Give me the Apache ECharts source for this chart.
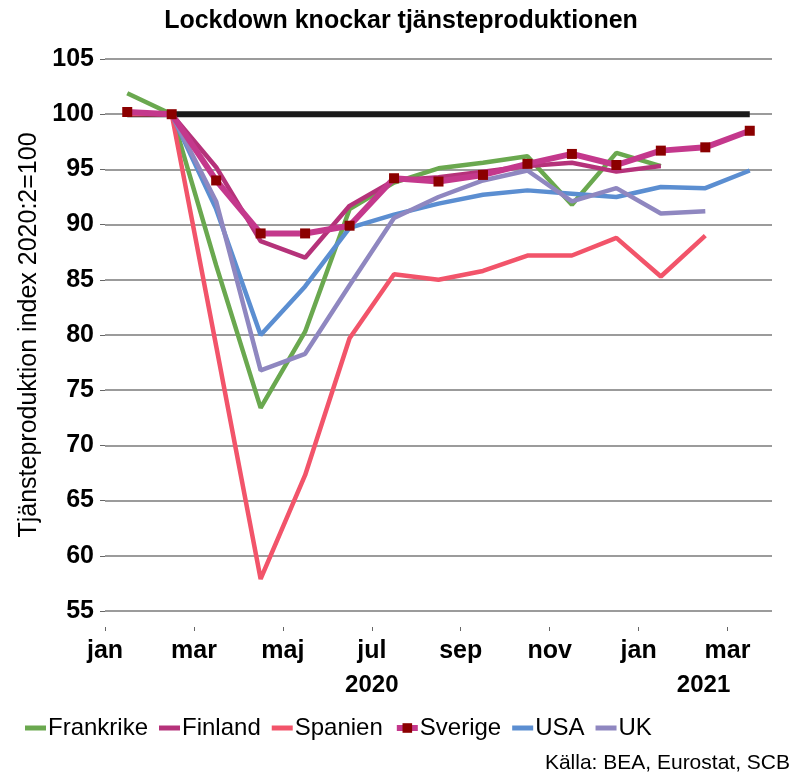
<!DOCTYPE html>
<html>
<head>
<meta charset="utf-8">
<script src="https://cdn.jsdelivr.net/npm/echarts@6/dist/echarts.min.js"></script>
<style>
  html, body { margin: 0; padding: 0; background: #fff; }
  #chart { width: 802px; height: 777px; }
</style>
</head>
<body>
<div id="chart"></div>
<script>
// months jan 2020 .. mar 2021, index 2020:2 = 100
const months = ['jan', 'feb', 'mar', 'apr', 'maj', 'jun', 'jul', 'aug', 'sep', 'okt', 'nov', 'dec', 'jan', 'feb', 'mar'];
const tickLabels = ['jan', 'mar', 'maj', 'jul', 'sep', 'nov', 'jan', 'mar'];

const frankrike = [101.9, 100, 86.3, 73.4, 80.3, 91.4, 93.8, 95.1, 95.6, 96.2, 91.8, 96.5, 95.3, null, null];
const finland   = [100.1, 100, 95.2, 88.5, 87.0, 91.7, 94.0, 94.3, 94.8, 95.3, 95.6, 94.8, 95.3, null, null];
const spanien   = [100.0, 100, 79.0, 57.9, 67.3, 79.7, 85.5, 85.0, 85.8, 87.2, 87.2, 88.8, 85.3, 89.0, null];
const sverige   = [100.2, 100, 94.0, 89.2, 89.2, 89.9, 94.2, 93.9, 94.5, 95.5, 96.4, 95.4, 96.7, 97.0, 98.5];
const usa       = [null, 100, 91.4, 80.0, 84.4, 89.7, 90.9, 91.9, 92.7, 93.1, 92.8, 92.5, 93.4, 93.3, 94.9];
const uk        = [null, 100, 92.1, 76.8, 78.3, 84.5, 90.6, 92.5, 94.0, 94.9, 92.1, 93.3, 91.0, 91.2, null];
const baseline  = [100, 100, 100, 100, 100, 100, 100, 100, 100, 100, 100, 100, 100, 100, 100];

// points sit in the middle of each month
function pts(arr) {
  return arr.map(function (v, i) { return [i + 0.5, v]; });
}

function line(name, arr, color, width) {
  return {
    name: name,
    type: 'line',
    data: pts(arr),
    symbol: 'none',
    connectNulls: false,
    lineStyle: { color: color, width: width || 4.5 },
    itemStyle: { color: color },
    z: 3
  };
}

// flat bar for the legend (the M moves keep the 21x12 box)
const barIcon = 'path://M0,0M21,12M0,3.5L21,3.5L21,8.5L0,8.5Z';

const chart = echarts.init(document.getElementById('chart'));
chart.setOption({
  backgroundColor: '#fff',
  animation: false,
  textStyle: { fontFamily: 'Liberation Sans, Arial, sans-serif' },
  title: {
    text: 'Lockdown knockar tjänsteproduktionen',
    left: 'center',
    top: 4,
    textStyle: { fontSize: 25, fontWeight: 'bold', color: '#000' }
  },
  grid: { left: 105, right: 30, top: 59, bottom: 166 },
  legend: {
    left: 20,
    top: 711,
    itemWidth: 21,
    itemHeight: 12,
    itemGap: 11,
    textStyle: { fontSize: 24, color: '#000', padding: [0, 0, 0, -3] },
    data: [
      { name: 'Frankrike', icon: barIcon },
      { name: 'Finland', icon: barIcon },
      { name: 'Spanien', icon: barIcon },
      { name: 'Sverige', lineStyle: { color: '#c4388c', width: 6 }, itemStyle: { color: '#8b0000' } },
      { name: 'USA', icon: barIcon },
      { name: 'UK', icon: barIcon }
    ]
  },
  graphic: [{
    type: 'text',
    right: 12,
    top: 753,
    style: { text: 'Källa: BEA, Eurostat, SCB', font: '21px Liberation Sans, Arial, sans-serif', fill: '#000' }
  }],
  xAxis: {
    type: 'value',
    min: 0,
    max: 15,
    interval: 2,
    offset: 16,
    axisLine: { show: false },
    axisTick: { show: true, length: 4, lineStyle: { color: '#666' } },
    splitLine: { show: false },
    axisLabel: {
      margin: 7,
      showMaxLabel: false,
      fontSize: 25,
      fontWeight: 'bold',
      color: '#000',
      lineHeight: 34,
      formatter: function (v) {
        const lbl = tickLabels[v / 2];
        if (lbl === undefined) return '';
        if (v === 6) return lbl + '\n{y|2020}';
        if (v === 14) return lbl + '\n{y2|2021}';
        return lbl;
      },
      rich: {
        y: { fontSize: 24, fontWeight: 'bold', color: '#000' },
        y2: { fontSize: 24, fontWeight: 'bold', color: '#000', padding: [0, 48, 0, 0] }
      }
    }
  },
  yAxis: {
    type: 'value',
    min: 55,
    max: 105,
    interval: 5,
    name: 'Tjänsteproduktion index 2020:2=100',
    nameLocation: 'middle',
    nameGap: 60,
    nameTextStyle: { fontSize: 25, color: '#000' },
    axisLine: { show: false },
    axisTick: { show: true, length: 5, lineStyle: { color: '#666' } },
    axisLabel: { fontSize: 25, fontWeight: 'bold', color: '#000', margin: 11 },
    splitLine: { lineStyle: { color: '#7a7a7a', width: 1.5 } }
  },
  series: [
    {
      type: 'line',
      data: pts(baseline),
      symbol: 'none',
      lineStyle: { color: '#1a1a1a', width: 6 },
      z: 2,
      silent: true
    },
    line('Frankrike', frankrike, '#6aa84f'),
    line('Finland', finland, '#b5327a'),
    line('Spanien', spanien, '#f2546a'),
    {
      name: 'Sverige',
      type: 'line',
      data: pts(sverige),
      symbol: 'rect',
      symbolSize: 10,
      lineStyle: { color: '#c4388c', width: 6 },
      itemStyle: { color: '#8b0000', borderWidth: 0 },
      z: 4
    },
    line('USA', usa, '#5b8ed1'),
    line('UK', uk, '#8f87c0')
  ]
});
</script>
</body>
</html>
